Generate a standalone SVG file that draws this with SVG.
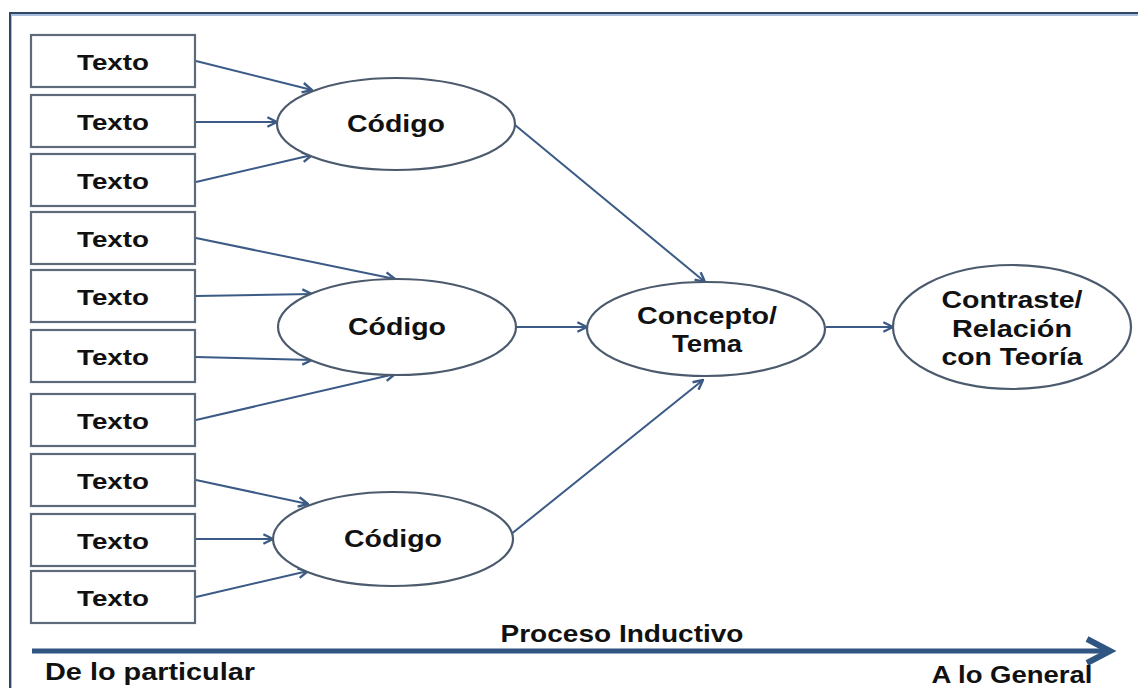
<svg xmlns="http://www.w3.org/2000/svg" width="1138" height="688" viewBox="0 0 1138 688">
  <defs>
    <marker id="chev" markerUnits="userSpaceOnUse" markerWidth="12" markerHeight="12" viewBox="0 0 10 10" refX="9" refY="5" orient="auto">
      <path d="M1,1 L9,5 L1,9" fill="none" stroke="#3b5a86" stroke-width="2" stroke-linejoin="miter"/>
    </marker>
  </defs>
  <style>
    .box { fill: #ffffff; stroke: #5d6a7a; stroke-width: 2.2; }
    .ell { fill: #ffffff; stroke: #4b5a6c; stroke-width: 2.2; }
    .lbl { font-family: "Liberation Sans", Arial, sans-serif; font-weight: bold; fill: #111111; text-anchor: middle; }
    .t21 { font-size: 22px; }
    .t22 { font-size: 23px; }
    .t23 { font-size: 24px; }
    .edge { fill: none; stroke: #3b5a86; stroke-width: 2; marker-end: url(#chev); }
  </style>
  <rect width="1138" height="688" fill="#ffffff"/>

  <!-- frame (top and left edges) -->
  <g id="frame">
    <path d="M11,690 L11,15 L1140,15" fill="none" stroke="#a9bddc" stroke-width="2"/>
    <path d="M10,690 L10,13 L1140,13" fill="none" stroke="#2e4668" stroke-width="2"/>
  </g>

  <!-- connectors -->
  <g id="connectors">
    <line class="edge" x1="196" y1="61" x2="312" y2="90"/>
    <line class="edge" x1="196" y1="122" x2="277" y2="122"/>
    <line class="edge" x1="196" y1="182" x2="312" y2="155"/>
    <line class="edge" x1="196" y1="238" x2="395" y2="279"/>
    <line class="edge" x1="196" y1="296" x2="312" y2="294"/>
    <line class="edge" x1="196" y1="357" x2="312" y2="360"/>
    <line class="edge" x1="196" y1="420" x2="395" y2="374"/>
    <line class="edge" x1="196" y1="480" x2="308" y2="504"/>
    <line class="edge" x1="196" y1="539" x2="273" y2="539"/>
    <line class="edge" x1="196" y1="597" x2="308" y2="571"/>
    <line class="edge" x1="515" y1="125" x2="705" y2="282"/>
    <line class="edge" x1="517" y1="327" x2="587" y2="327"/>
    <line class="edge" x1="510" y1="535" x2="703" y2="380"/>
    <line class="edge" x1="826" y1="327" x2="893" y2="327"/>
  </g>

  <!-- source text boxes -->
  <g id="texto1"><rect class="box" x="31" y="35" width="164" height="52"/><text class="lbl t21" x="113" y="69.5" textLength="72" lengthAdjust="spacingAndGlyphs">Texto</text></g>
  <g id="texto2"><rect class="box" x="31" y="95" width="164" height="52"/><text class="lbl t21" x="113" y="129.5" textLength="72" lengthAdjust="spacingAndGlyphs">Texto</text></g>
  <g id="texto3"><rect class="box" x="31" y="154" width="164" height="52"/><text class="lbl t21" x="113" y="188.5" textLength="72" lengthAdjust="spacingAndGlyphs">Texto</text></g>
  <g id="texto4"><rect class="box" x="31" y="212" width="164" height="52"/><text class="lbl t21" x="113" y="246.5" textLength="72" lengthAdjust="spacingAndGlyphs">Texto</text></g>
  <g id="texto5"><rect class="box" x="31" y="270" width="164" height="52"/><text class="lbl t21" x="113" y="304.5" textLength="72" lengthAdjust="spacingAndGlyphs">Texto</text></g>
  <g id="texto6"><rect class="box" x="31" y="330" width="164" height="52"/><text class="lbl t21" x="113" y="364.5" textLength="72" lengthAdjust="spacingAndGlyphs">Texto</text></g>
  <g id="texto7"><rect class="box" x="31" y="394" width="164" height="52"/><text class="lbl t21" x="113" y="428.5" textLength="72" lengthAdjust="spacingAndGlyphs">Texto</text></g>
  <g id="texto8"><rect class="box" x="31" y="454" width="164" height="52"/><text class="lbl t21" x="113" y="488.5" textLength="72" lengthAdjust="spacingAndGlyphs">Texto</text></g>
  <g id="texto9"><rect class="box" x="31" y="514" width="164" height="52"/><text class="lbl t21" x="113" y="548.5" textLength="72" lengthAdjust="spacingAndGlyphs">Texto</text></g>
  <g id="texto10"><rect class="box" x="31" y="571" width="164" height="52"/><text class="lbl t21" x="113" y="605.5" textLength="72" lengthAdjust="spacingAndGlyphs">Texto</text></g>

  <!-- codes -->
  <g id="codigo1"><ellipse class="ell" cx="396" cy="124" rx="119" ry="46"/><text class="lbl t22" x="396" y="132" textLength="98" lengthAdjust="spacingAndGlyphs">Código</text></g>
  <g id="codigo2"><ellipse class="ell" cx="397" cy="327" rx="119" ry="48"/><text class="lbl t22" x="397" y="335" textLength="98" lengthAdjust="spacingAndGlyphs">Código</text></g>
  <g id="codigo3"><ellipse class="ell" cx="393" cy="539" rx="120" ry="47"/><text class="lbl t22" x="393" y="547" textLength="98" lengthAdjust="spacingAndGlyphs">Código</text></g>

  <!-- concept / theme -->
  <g id="concepto">
    <ellipse class="ell" cx="706" cy="329" rx="119" ry="47"/>
    <text class="lbl t22" x="707" y="324" textLength="140" lengthAdjust="spacingAndGlyphs">Concepto/</text>
    <text class="lbl t22" x="707" y="352" textLength="70" lengthAdjust="spacingAndGlyphs">Tema</text>
  </g>

  <!-- contrast with theory -->
  <g id="contraste">
    <ellipse class="ell" cx="1012" cy="327" rx="119" ry="62"/>
    <text class="lbl t22" x="1012" y="308" textLength="141" lengthAdjust="spacingAndGlyphs">Contraste/</text>
    <text class="lbl t22" x="1012" y="337" textLength="120" lengthAdjust="spacingAndGlyphs">Relación</text>
    <text class="lbl t22" x="1012" y="365" textLength="141" lengthAdjust="spacingAndGlyphs">con Teoría</text>
  </g>

  <!-- inductive process axis -->
  <g id="eje">
    <line x1="32" y1="651" x2="1108" y2="651" stroke="#2f5583" stroke-width="5"/>
    <polyline points="1087,639 1110,651 1087,663" fill="none" stroke="#2f5583" stroke-width="6" stroke-linejoin="miter" stroke-miterlimit="6"/>
    <text class="lbl t23" x="622" y="642" textLength="243" lengthAdjust="spacingAndGlyphs">Proceso Inductivo</text>
    <text class="lbl t23" x="150" y="680" textLength="210" lengthAdjust="spacingAndGlyphs">De lo particular</text>
    <text class="lbl t23" x="1012" y="683" textLength="161" lengthAdjust="spacingAndGlyphs">A lo General</text>
  </g>
</svg>
